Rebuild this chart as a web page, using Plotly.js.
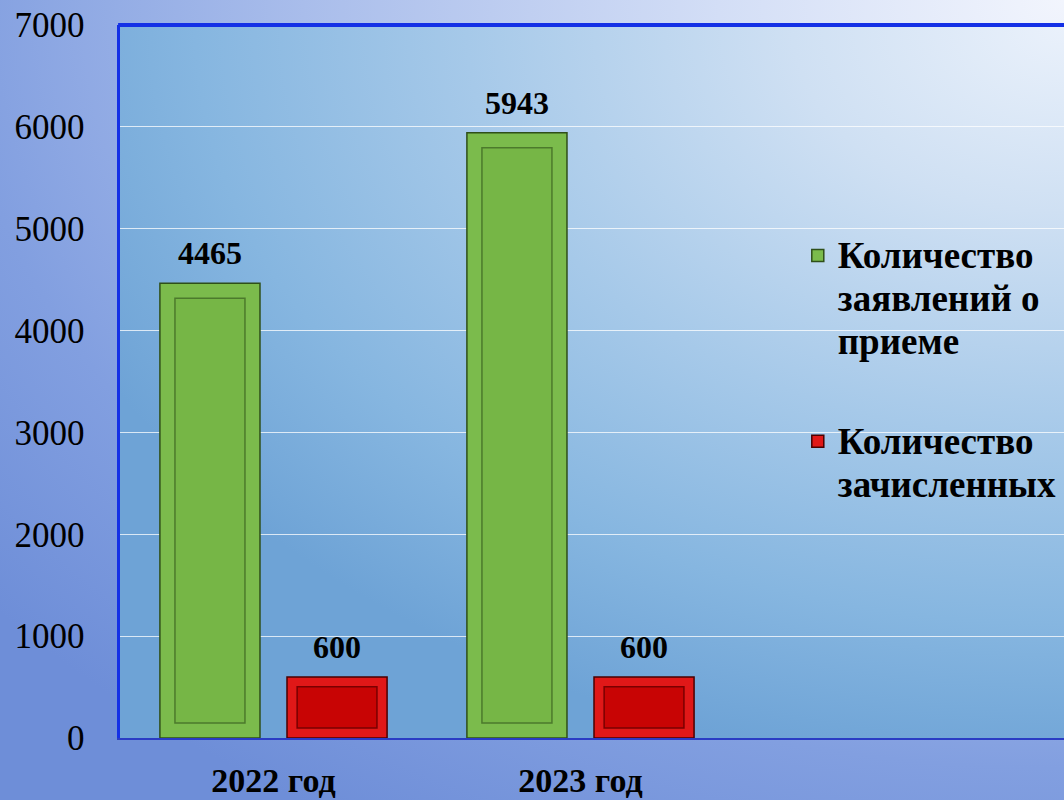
<!DOCTYPE html>
<html>
<head>
<meta charset="utf-8">
<script src="https://cdn.plot.ly/plotly-3.0.1.min.js"></script>
<style>
  html, body { margin: 0; padding: 0; width: 1064px; height: 800px; overflow: hidden; }
  body {
    background: radial-gradient(ellipse 130% 120% at 100% 0%, #f2f5fd 0%, #d3def6 25%, #a9bdeb 55%, #829fe0 80%, #6e8ed8 100%);
  }
  #plotbg {
    position: absolute; left: 120px; top: 25px; width: 944px; height: 713px;
    background: radial-gradient(ellipse 115% 105% at 100% 0%, #eaf1fb 0%, #cfe0f3 25%, #a6c9e9 55%, #86b6e0 80%, #6ea3d6 100%);
  }
  #chart { position: absolute; left: 0; top: 0; width: 1064px; height: 800px; }
</style>
</head>
<body>
<div id="plotbg"></div>
<div id="chart"></div>
<script>
// ---- data ----
const categories = ['2022 год', '2023 год'];
const applications = [4465, 5943];
const enrolled = [600, 600];
const seriesNames = ['Количество<br>заявлений о<br>приеме', 'Количество<br>зачисленных'];
const yTickValues = [0, 1000, 2000, 3000, 4000, 5000, 6000, 7000];
const yTickLabels = ['0', '1000', '2000', '3000', '4000', '5000', '6000', '7000'];

// ---- styles ----
const serif = 'Liberation Serif, Times New Roman, serif';
const barW = 0.326;
const greenOffset = -0.37, redOffset = 0.044;
const greenInsetX = 0.049, greenInsetY = 147;
const redInsetX = 0.033, redInsetY = 98;

function inner(vals, inset) { return vals.map(v => v - 2 * inset); }
function base(vals, inset) { return vals.map(() => inset); }
function bigName(s) {
  return s.split('<br>').map(p => '<span style="font-size:37px">' + p + '</span>').join('<br>');
}

const traces = [
  {
    type: 'bar', name: bigName(seriesNames[0]), x: categories, y: applications,
    width: barW, offset: greenOffset, legendgroup: 'a',
    marker: { color: '#7bbb4c', line: { color: '#2f4f19', width: 1.5 } },
    hoverinfo: 'y'
  },
  {
    type: 'bar', name: bigName(seriesNames[1]), x: categories, y: enrolled,
    width: barW, offset: redOffset, legendgroup: 'b',
    marker: { color: '#e01818', line: { color: '#4a0000', width: 1.5 } },
    hoverinfo: 'y'
  },
  {
    type: 'bar', x: categories, y: inner(applications, greenInsetY), base: base(applications, greenInsetY),
    width: barW - 2 * greenInsetX, offset: greenOffset + greenInsetX, showlegend: false,
    marker: { color: '#76b646', line: { color: '#4c7a2c', width: 1.5 } },
    hoverinfo: 'skip'
  },
  {
    type: 'bar', x: categories, y: inner(enrolled, redInsetY), base: base(enrolled, redInsetY),
    width: barW - 2 * redInsetX, offset: redOffset + redInsetX, showlegend: false,
    marker: { color: '#c80404', line: { color: '#7a0000', width: 1.5 } },
    hoverinfo: 'skip'
  }
];

const annotations = [];
const shiftPx = (barW / 2 + greenOffset) * 307;
const shiftPxR = (barW / 2 + redOffset) * 307;
categories.forEach((c, i) => {
  annotations.push({ x: c, y: applications[i], xref: 'x', yref: 'y', text: String(applications[i]),
    showarrow: false, xshift: shiftPx, yshift: 30, yanchor: 'middle',
    font: { family: serif, size: 32, weight: 'bold', color: '#000' } });
  annotations.push({ x: c, y: enrolled[i], xref: 'x', yref: 'y', text: String(enrolled[i]),
    showarrow: false, xshift: shiftPxR, yshift: 30, yanchor: 'middle',
    font: { family: serif, size: 32, weight: 'bold', color: '#000' } });
});

const layout = {
  width: 1064, height: 800,
  margin: { l: 120, r: 0, t: 25, b: 62 },
  paper_bgcolor: 'rgba(0,0,0,0)',
  plot_bgcolor: 'rgba(0,0,0,0)',
  barmode: 'overlay',
  showlegend: true,
  legend: {
    x: 0.718, y: 0.716, xanchor: 'left', yanchor: 'top', valign: 'top',
    bgcolor: 'rgba(0,0,0,0)', borderwidth: 0,
    font: { family: serif, size: 33, weight: 'bold', color: '#000' },
    tracegroupgap: 54, traceorder: 'grouped'
  },
  xaxis: {
    type: 'category', range: [-0.5, 2.575], showgrid: false, zeroline: false,
    showline: true, linecolor: '#2a3cc4', linewidth: 2,
    ticks: '', ticklabelstandoff: 11,
    tickfont: { family: serif, size: 34, weight: 'bold', color: '#000' },
    fixedrange: true
  },
  yaxis: {
    range: [0, 7000], tickvals: yTickValues, ticktext: yTickLabels,
    showgrid: true, gridcolor: 'rgba(255,255,255,0.75)', gridwidth: 1,
    zeroline: false, showline: true, linecolor: '#1430e6', linewidth: 3.5,
    ticks: '', ticklabelstandoff: 25,
    tickfont: { family: serif, size: 35, color: '#000' },
    fixedrange: true
  },
  shapes: [
    { type: 'line', xref: 'paper', yref: 'paper', x0: -0.002, x1: 1, y0: 1, y1: 1,
      line: { color: '#1430e6', width: 4 } }
  ],
  annotations: annotations
};

Plotly.newPlot('chart', traces, layout, { displayModeBar: false, staticPlot: true });
</script>
</body>
</html>
